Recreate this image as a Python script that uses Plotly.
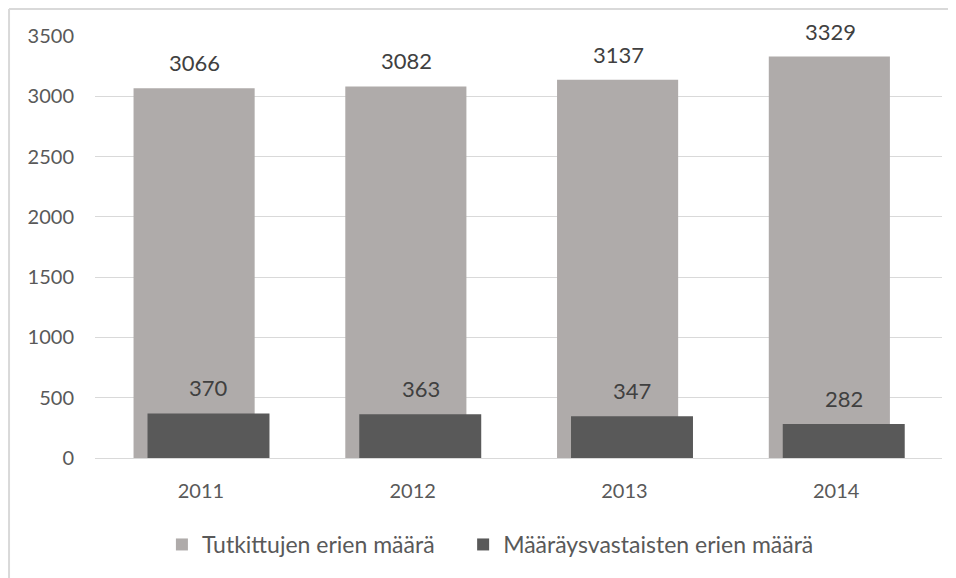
import plotly.graph_objects as go

years = ['2011', '2012', '2013', '2014']
tutkitut = [3066, 3082, 3137, 3329]
maaraysvastaiset = [370, 363, 347, 282]
y_ticks = [0, 500, 1000, 1500, 2000, 2500, 3000, 3500]

FONT = 'Lato'
TXT = '#595959'

fig = go.Figure()
fig.add_trace(go.Bar(x=years, y=tutkitut, name='Tutkittujen erien määrä    ',
                     marker={'color': '#AFABAA', 'line': {'width': 0}},
                     width=0.572, offset=-0.318))
fig.add_trace(go.Bar(x=years, y=maaraysvastaiset, name='Määräysvastaisten erien määrä',
                     marker={'color': '#595959', 'line': {'width': 0}},
                     width=0.576, offset=-0.252))

# value labels above bars (category index positions)
for i in range(len(years)):
    fig.add_annotation(x=i, y=tutkitut[i], text=str(tutkitut[i]), showarrow=False,
                       xref='x', yref='y', yanchor='bottom', yshift=10, xshift=-6,
                       font=dict(family=FONT, size=22, color='#404040'))
    fig.add_annotation(x=i, y=maaraysvastaiset[i], text=str(maaraysvastaiset[i]), showarrow=False,
                       xref='x', yref='y', yanchor='bottom', yshift=10, xshift=8,
                       font=dict(family=FONT, size=22, color='#404040'))

# chart border (left and top only visible)
fig.add_shape(type='line', xref='paper', yref='paper', x0=-0.1015, x1=-0.1015, y0=-0.4, y1=1.064,
              line=dict(color='#D9D9D9', width=2))
fig.add_shape(type='line', xref='paper', yref='paper', x0=-0.1015, x1=1.1, y0=1.064, y1=1.064,
              line=dict(color='#D9D9D9', width=2))

fig.update_layout(
    width=948, height=570,
    margin=dict(l=87, r=14, t=28, b=117),
    barmode='overlay',
    plot_bgcolor='white', paper_bgcolor='white',
    font=dict(family=FONT, size=20, color=TXT),
    showlegend=True,
    legend=dict(orientation='h', x=0.079, xanchor='left', y=-0.205, yanchor='middle',
                font=dict(family=FONT, size=23, color=TXT), itemwidth=30,
                traceorder='normal'),
    xaxis=dict(type='category', range=[-0.5, 3.5], showgrid=False, showline=False, ticks='',
               ticklabelstandoff=19, tickfont=dict(size=20, color=TXT)),
    yaxis=dict(range=[0, 3500], tickvals=y_ticks, showgrid=True, gridcolor='#D9D9D9',
               gridwidth=1, zeroline=True, zerolinecolor='#D9D9D9', zerolinewidth=1,
               ticks='', ticklabelstandoff=20, tickfont=dict(size=20, color=TXT)),
)

fig.write_html('out.html')
